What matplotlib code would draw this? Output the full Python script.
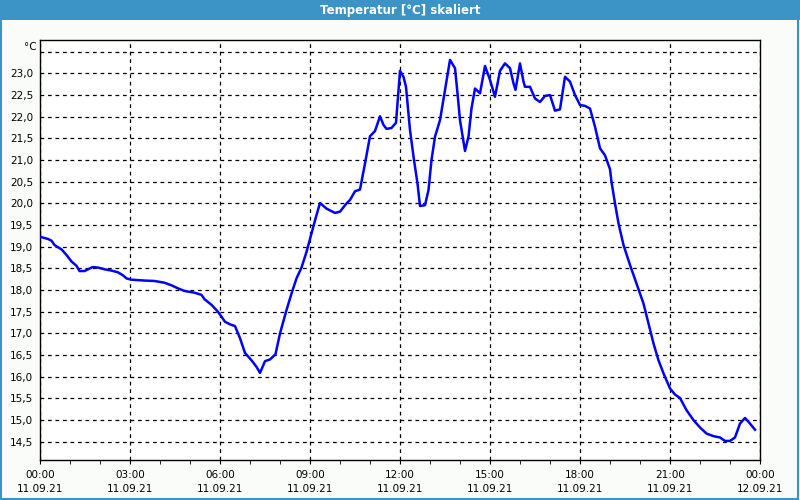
import matplotlib
matplotlib.use("Agg")
import matplotlib.pyplot as plt
from matplotlib.patches import Rectangle

# minutes since 00:00 on 11.09.21
minutes = [0, 16, 23, 29, 43, 53, 63, 73, 79, 89, 96, 105, 116, 129, 143, 156, 166, 173,
           183, 209, 229, 249, 263, 276, 289, 309, 323, 329, 343, 356, 361, 370, 380, 390,
           400, 410, 423, 433, 440, 450, 460, 471, 480, 493, 503, 513, 523, 533, 543, 552,
           560, 573, 590, 600, 613, 620, 630, 640, 650, 660, 670, 680, 687, 693, 703, 712,
           715, 720, 727, 732, 740, 748, 755, 760, 770, 777, 783, 790, 800, 810, 820, 830,
           835, 840, 850, 857, 863, 870, 880, 890, 900, 910, 920, 930, 940, 947, 951, 960,
           967, 970, 980, 990, 1000, 1010, 1020, 1030, 1040, 1050, 1060, 1070, 1080, 1090,
           1100, 1110, 1120, 1130, 1140, 1143, 1150, 1157, 1167, 1180, 1193, 1207, 1217,
           1227, 1237, 1247, 1260, 1270, 1280, 1293, 1307, 1320, 1333, 1347, 1360, 1370,
           1380, 1390, 1400, 1410, 1420, 1430]
temps = [19.23, 19.18, 19.14, 19.04, 18.94, 18.81, 18.66, 18.56, 18.44, 18.44, 18.48, 18.53,
         18.52, 18.48, 18.45, 18.41, 18.34, 18.27, 18.24, 18.22, 18.21, 18.17, 18.11, 18.04,
         17.98, 17.94, 17.89, 17.79, 17.66, 17.50, 17.42, 17.27, 17.21, 17.17, 16.89, 16.55,
         16.38, 16.23, 16.09, 16.36, 16.40, 16.52, 17.00, 17.54, 17.92, 18.27, 18.52, 18.88,
         19.31, 19.69, 20.01, 19.88, 19.78, 19.81, 20.00, 20.08, 20.28, 20.32, 20.92, 21.55,
         21.67, 22.01, 21.81, 21.72, 21.74, 21.86, 22.31, 23.06, 22.92, 22.69, 21.69, 21.00,
         20.46, 19.94, 19.96, 20.31, 21.00, 21.54, 21.92, 22.61, 23.31, 23.12, 22.54, 21.92,
         21.21, 21.54, 22.19, 22.65, 22.54, 23.17, 22.85, 22.46, 23.06, 23.23, 23.12, 22.77,
         22.62, 23.23, 22.81, 22.69, 22.69, 22.42, 22.34, 22.48, 22.50, 22.14, 22.17, 22.92,
         22.81, 22.50, 22.27, 22.25, 22.19, 21.77, 21.27, 21.11, 20.79, 20.50, 20.00, 19.54,
         19.04, 18.58, 18.15, 17.69, 17.23, 16.77, 16.38, 16.08, 15.73, 15.59, 15.51, 15.23,
         15.00, 14.83, 14.69, 14.63, 14.60, 14.52, 14.52, 14.60, 14.92, 15.05, 14.92, 14.78]

x_ticks = [0, 3, 6, 9, 12, 15, 18, 21, 24]
x_labels = ["00:00\n11.09.21", "03:00\n11.09.21", "06:00\n11.09.21", "09:00\n11.09.21",
            "12:00\n11.09.21", "15:00\n11.09.21", "18:00\n11.09.21", "21:00\n11.09.21",
            "00:00\n12.09.21"]
y_ticks = [14.5, 15.0, 15.5, 16.0, 16.5, 17.0, 17.5, 18.0, 18.5, 19.0, 19.5, 20.0,
           20.5, 21.0, 21.5, 22.0, 22.5, 23.0, 23.5]

bg = "#fafcfa"
bar_blue = "#3b93c6"

fig = plt.figure(figsize=(8, 5), dpi=100, facecolor=bg)

# title bar and window frame
fig.patches.append(Rectangle((0, 0.96), 1, 0.04, transform=fig.transFigure,
                             facecolor=bar_blue, edgecolor="none", zorder=0))
fig.patches.append(Rectangle((0.001, 0.002), 0.997, 0.996, transform=fig.transFigure,
                             facecolor="none", edgecolor=bar_blue, lw=1.5, zorder=5))
fig.text(0.5, 0.979, "Temperatur [°C] skaliert", color="white", fontsize=8.5,
         fontweight="bold", ha="center", va="center")

ax = fig.add_axes([0.05, 0.08, 0.90, 0.84])
ax.set_facecolor("white")

hours = [m / 60 for m in minutes]
ax.plot(hours, temps, color="#0000ff", lw=1.8, zorder=3)

ax.set_xlim(0, 24)
ax.set_ylim(14.08, 23.77)

ax.set_xticks(x_ticks)
ax.set_xticklabels(x_labels, fontsize=7.5, linespacing=1.55)
ax.set_xticks(range(25), minor=True)
ax.tick_params(axis="x", which="both", direction="out", length=3, pad=4, color="black")

ax.set_yticks(y_ticks)
ylabels = [("%.1f" % v).replace(".", ",") for v in y_ticks]
ylabels[-1] = ""
ax.set_yticklabels(ylabels, fontsize=7.5)
ax.tick_params(axis="y", length=0, pad=5)
ax.text(-0.005, 23.62, "°C", transform=ax.get_yaxis_transform(), fontsize=7.5,
        ha="right", va="center")

ax.grid(True, color="black", linestyle=(0, (3, 3)), lw=0.9)
for s in ax.spines.values():
    s.set_color("black")
    s.set_linewidth(1)

fig.savefig("out.png", dpi=100, facecolor=bg)
